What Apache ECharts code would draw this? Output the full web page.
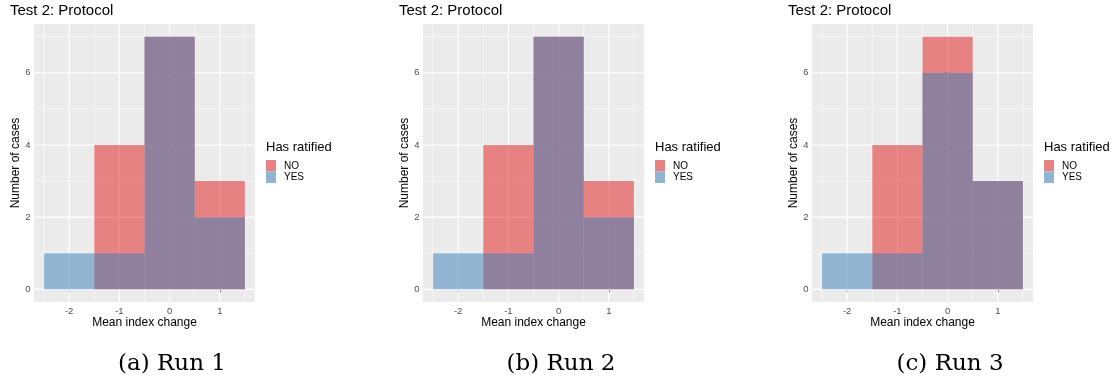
<!DOCTYPE html>
<html>
<head>
<meta charset="utf-8">
<script src="https://cdn.jsdelivr.net/npm/echarts@6/dist/echarts.min.js"></script>
<style>
  html, body { margin: 0; padding: 0; background: #fff; }
  #chart { width: 1113px; height: 382px; }
</style>
</head>
<body>
<div id="chart"></div>
<script>
// histogram bins (centres, width 1)
const binCenters = [-2, -1, 0, 1]
const binWidth = 1

// counts per run
const noRun1 = [0, 4, 7, 3]
const yesRun1 = [1, 1, 7, 2]
const noRun2 = [0, 4, 7, 3]
const yesRun2 = [1, 1, 7, 2]
const noRun3 = [0, 4, 7, 3]
const yesRun3 = [1, 1, 6, 3]

const runCaptions = ["(a) Run 1", "(b) Run 2", "(c) Run 3"]

// axes
const xMajor = [-2, -1, 0, 1]
const xMinor = [-2.5, -1.5, -0.5, 0.5, 1.5]
const yMajor = [0, 2, 4, 6]
const yMinor = [1, 3, 5, 7]
const xRange = [-2.7, 1.7]
const yRange = [-0.35, 7.35]

const runs = [
  { no: noRun1, yes: yesRun1 },
  { no: noRun2, yes: yesRun2 },
  { no: noRun3, yes: yesRun3 },
]

const FONT = "Liberation Sans, Arial, sans-serif"
const PANEL_STEP = 389
const NO_FILL = "rgba(228,26,28,0.5)"
const YES_FILL = "rgba(55,126,184,0.5)"

function gridLineSeries(idx, values, vertical, major) {
  return {
    type: "custom",
    xAxisIndex: idx,
    yAxisIndex: idx,
    silent: true,
    z: 1,
    data: values.map(v => (vertical ? [v, 0] : [0, v])),
    renderItem(params, api) {
      const cs = params.coordSys
      const lw = major ? 1.1 : 0.55
      if (vertical) {
        const p = api.coord([api.value(0), 0])
        return { type: "line", shape: { x1: p[0], y1: cs.y, x2: p[0], y2: cs.y + cs.height }, style: { stroke: "#fff", lineWidth: lw } }
      }
      const p = api.coord([0, api.value(1)])
      return { type: "line", shape: { x1: cs.x, y1: p[1], x2: cs.x + cs.width, y2: p[1] }, style: { stroke: "#fff", lineWidth: lw } }
    },
  }
}

function histSeries(idx, name, counts, fill) {
  return {
    type: "custom",
    name: name,
    xAxisIndex: idx,
    yAxisIndex: idx,
    z: 2,
    data: binCenters.map((c, i) => [c, counts[i]]),
    renderItem(params, api) {
      const x = api.value(0)
      const y = api.value(1)
      if (!y) return
      const p0 = api.coord([x - binWidth / 2, 0])
      const p1 = api.coord([x + binWidth / 2, y])
      return {
        type: "rect",
        shape: { x: p0[0], y: p1[1], width: p1[0] - p0[0], height: p0[1] - p1[1] },
        style: { fill: fill },
      }
    },
  }
}

const grids = [], xAxes = [], yAxes = [], series = [], titles = [], legends = [], graphics = []

runs.forEach((run, i) => {
  const off = i * PANEL_STEP
  grids.push({
    left: 34 + off, top: 24, width: 221, height: 278,
    show: true, backgroundColor: "#EBEBEB", borderWidth: 0,
  })
  xAxes.push({
    gridIndex: i, type: "value", min: xRange[0], max: xRange[1],
    name: "Mean index change", nameLocation: "middle", nameGap: 15, nameMoveOverlap: false,
    nameTextStyle: { fontFamily: FONT, fontSize: 12, color: "#000" },
    axisLine: { show: false },
    axisTick: { show: true, customValues: xMajor, length: 3, lineStyle: { color: "#333", width: 1 } },
    axisLabel: { customValues: xMajor, fontFamily: FONT, fontSize: 9.5, color: "#4D4D4D", margin: 4 },
    splitLine: { show: false },
  })
  yAxes.push({
    gridIndex: i, type: "value", min: yRange[0], max: yRange[1],
    name: "Number of cases", nameLocation: "middle", nameGap: 12, nameMoveOverlap: false,
    nameTextStyle: { fontFamily: FONT, fontSize: 12, color: "#000" },
    axisLine: { show: false },
    axisTick: { show: true, customValues: yMajor, length: 3, lineStyle: { color: "#333", width: 1 } },
    axisLabel: { customValues: yMajor, fontFamily: FONT, fontSize: 9.5, color: "#4D4D4D", margin: 3.5 },
    splitLine: { show: false },
  })
  series.push(gridLineSeries(i, xMinor, true, false))
  series.push(gridLineSeries(i, yMinor, false, false))
  series.push(gridLineSeries(i, xMajor, true, true))
  series.push(gridLineSeries(i, yMajor, false, true))
  series.push(histSeries(i, "NO", run.no, NO_FILL))
  series.push(histSeries(i, "YES", run.yes, YES_FILL))

  titles.push({
    text: "Test 2: Protocol", left: 10 + off, top: 3, padding: 0,
    textStyle: { fontFamily: FONT, fontSize: 15, fontWeight: "normal", color: "#000" },
  })
  legends.push({
    orient: "vertical", left: 266 + off, top: 160, padding: 0,
    itemWidth: 10, itemHeight: 11.5, itemGap: 0, icon: "rect",
    selectedMode: false,
    data: [
      { name: "NO", itemStyle: { color: "#E78283" } },
      { name: "YES", itemStyle: { color: "#91B4D1" } },
    ],
    textStyle: { fontFamily: FONT, fontSize: 10, color: "#000", padding: [0, 0, 0, 3] },
  })
  graphics.push({
    type: "text", left: 266 + off, top: 141,
    style: { text: "Has ratified", font: "13px " + FONT, fill: "#000" },
  })
  graphics.push({
    type: "text", x: 172 + off, y: 364,
    style: { text: runCaptions[i], font: "23px DejaVu Serif, serif", fill: "#000", textAlign: "center", textVerticalAlign: "middle" },
  })
})

const chart = echarts.init(document.getElementById("chart"))
chart.setOption({
  animation: false,
  title: titles,
  legend: legends,
  grid: grids,
  xAxis: xAxes,
  yAxis: yAxes,
  series: series,
  graphic: graphics,
})
</script>
</body>
</html>
